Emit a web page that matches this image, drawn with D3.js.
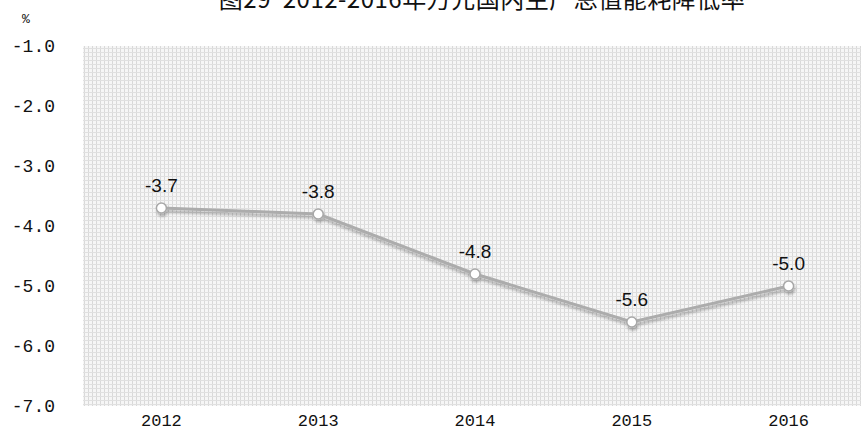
<!DOCTYPE html>
<html>
<head>
<meta charset="utf-8">
<script src="https://cdn.jsdelivr.net/npm/d3@7"></script>
<style>
  body { margin: 0; background: #ffffff; }
  svg { display: block; }
</style>
</head>
<body>
<svg id="chart"></svg>
<script>
var years = ["2012", "2013", "2014", "2015", "2016"]
var rates = [-3.7, -3.8, -4.8, -5.6, -5.0]
var yTicks = [-1, -2, -3, -4, -5, -6, -7]
var title = "图29  2012-2016年万元国内生产总值能耗降低率"

var dimensions = {
    width: 861,
    height: 432,
    margin: { top: 46, bottom: 26, left: 83, right: -6 }
}

var svg = d3.select("#chart")
    .attr("width", dimensions.width)
    .attr("height", dimensions.height)

var defs = svg.append("defs")
var pat = defs.append("pattern")
    .attr("id", "dots")
    .attr("patternUnits", "userSpaceOnUse")
    .attr("width", 4)
    .attr("height", 4)
pat.append("rect").attr("width", 4).attr("height", 4).attr("fill", "#f6f6f6")
pat.append("rect").attr("width", 1).attr("height", 4).attr("fill", "#d9d9d9")
pat.append("rect").attr("width", 4).attr("height", 1).attr("fill", "#e0e0e0")

var shadow = defs.append("filter").attr("id", "shadow")
    .attr("x", "-20%").attr("y", "-20%").attr("width", "140%").attr("height", "160%")
shadow.append("feGaussianBlur").attr("in", "SourceAlpha").attr("stdDeviation", 1.5).attr("result", "b")
shadow.append("feOffset").attr("in", "b").attr("dx", 1).attr("dy", 3).attr("result", "o")
shadow.append("feComponentTransfer").attr("in", "o").attr("result", "s")
    .append("feFuncA").attr("type", "linear").attr("slope", 0.3)
var merge = shadow.append("feMerge")
merge.append("feMergeNode").attr("in", "s")
merge.append("feMergeNode").attr("in", "SourceGraphic")

var xScale = d3.scaleBand()
    .domain(years)
    .range([dimensions.margin.left, dimensions.width - dimensions.margin.right])

var yScale = d3.scaleLinear()
    .domain([-1, -7])
    .range([dimensions.margin.top, dimensions.height - dimensions.margin.bottom])

// plot background
svg.append("rect")
    .attr("x", dimensions.margin.left)
    .attr("y", yScale(-1))
    .attr("width", dimensions.width - dimensions.margin.left)
    .attr("height", yScale(-7) - yScale(-1))
    .attr("fill", "url(#dots)")

// title, cropped at the top edge as in the original image
svg.append("text")
    .attr("x", 482)
    .attr("y", 8)
    .attr("text-anchor", "middle")
    .style("font-family", "'Noto Sans CJK SC', sans-serif")
    .style("font-size", "24px")
    .style("letter-spacing", "0.5px")
    .style("white-space", "pre")
    .attr("fill", "#111")
    .text(title)

svg.append("text")
    .attr("x", 26)
    .attr("y", 23)
    .attr("text-anchor", "middle")
    .style("font-family", "'Liberation Mono', monospace")
    .style("font-size", "13px")
    .attr("fill", "#111")
    .text("%")

var yAxisGen = d3.axisLeft(yScale)
    .tickValues(yTicks)
    .tickSize(0)
    .tickPadding(28)

svg.append("g")
    .attr("transform", "translate(" + dimensions.margin.left + ",0)")
    .call(yAxisGen)
    .call(g => g.select(".domain").remove())
    .selectAll("text")
    .style("font-family", "'Liberation Mono', monospace")
    .style("font-size", "18px")
    .attr("fill", "#111")
    .text(d => d3.format(".1f")(d).replace("−", "-"))

var xAxisGen = d3.axisBottom(xScale)
    .tickSize(0)
    .tickPadding(8)

svg.append("g")
    .attr("transform", "translate(0," + yScale(-7) + ")")
    .call(xAxisGen)
    .call(g => g.select(".domain").remove())
    .selectAll("text")
    .style("font-family", "'Liberation Mono', monospace")
    .style("font-size", "17px")
    .attr("fill", "#111")

var cx = d => xScale(d) + xScale.bandwidth() / 2
var pts = years.map((y, i) => ({ year: y, v: rates[i] }))

var line = d3.line()
    .x(d => cx(d.year))
    .y(d => yScale(d.v))

var series = svg.append("g").attr("filter", "url(#shadow)")

series.append("path")
    .datum(pts)
    .attr("d", line)
    .attr("fill", "none")
    .attr("stroke", "#acacac")
    .attr("stroke-width", 3)

series.selectAll("circle")
    .data(pts)
    .enter()
    .append("circle")
    .attr("cx", d => cx(d.year))
    .attr("cy", d => yScale(d.v))
    .attr("r", 5)
    .attr("fill", "#ffffff")
    .attr("stroke", "#a8a8a8")
    .attr("stroke-width", 1.5)

svg.selectAll(".val")
    .data(pts)
    .enter()
    .append("text")
    .attr("class", "val")
    .attr("x", d => cx(d.year))
    .attr("y", d => yScale(d.v) - 16)
    .attr("text-anchor", "middle")
    .style("font-family", "'Liberation Sans', Arial, sans-serif")
    .style("font-size", "19px")
    .attr("fill", "#111")
    .text(d => d3.format(".1f")(d.v).replace("−", "-"))
</script>
</body>
</html>
